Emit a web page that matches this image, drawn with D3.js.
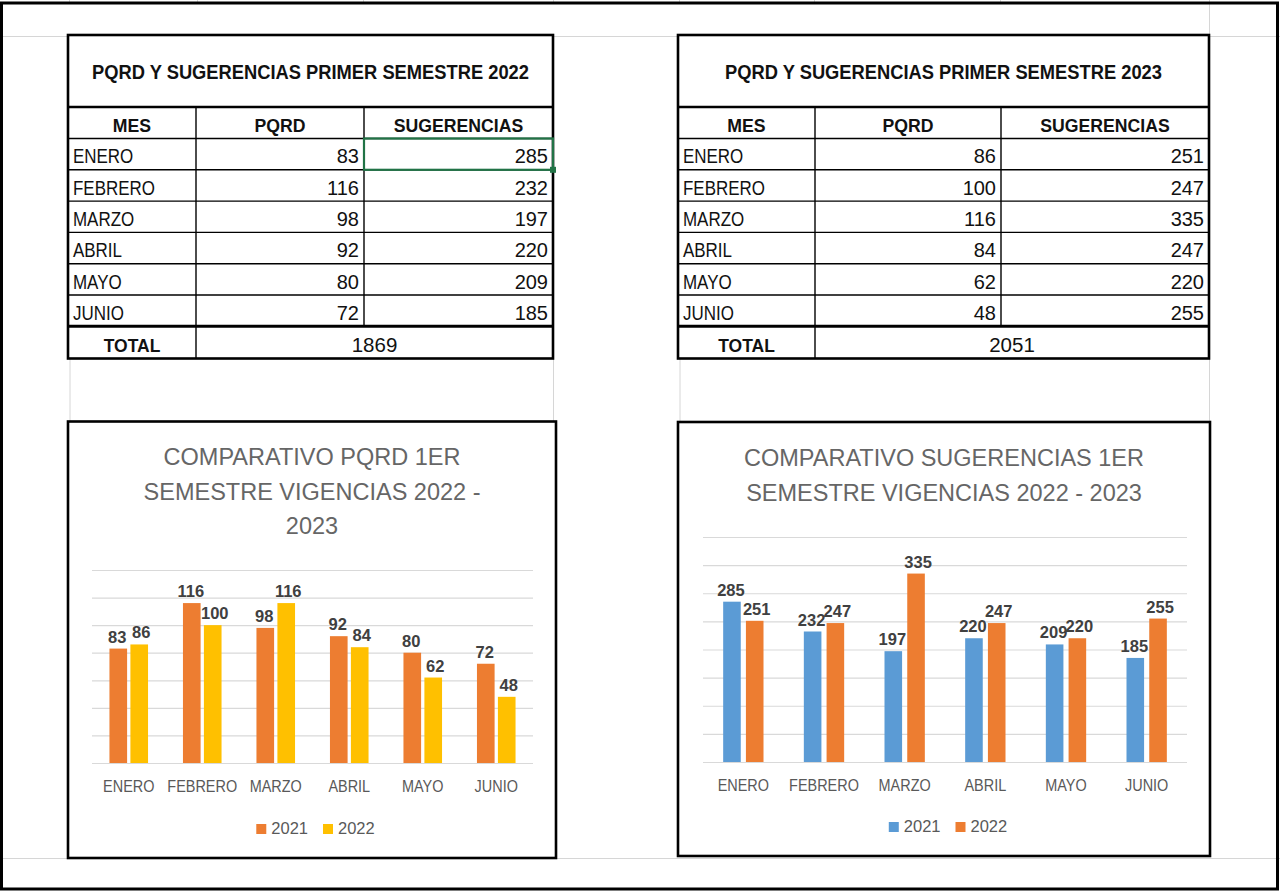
<!DOCTYPE html>
<html><head><meta charset="utf-8">
<script src="https://cdn.jsdelivr.net/npm/d3@7"></script>
<style>
html,body{margin:0;padding:0;background:#fff;}
svg{display:block;}
text{font-family:"Liberation Sans",Arial,sans-serif;}
</style></head>
<body><svg id="c" width="1280" height="892"></svg>
<script>
// ---------- DATA ----------
const meses = ["ENERO","FEBRERO","MARZO","ABRIL","MAYO","JUNIO"];
const pqrd2022 = [83,116,98,92,80,72];
const sug2022  = [285,232,197,220,209,185];
const pqrd2023 = [86,100,116,84,62,48];
const sug2023  = [251,247,335,247,220,255];
const tableTitles = ["PQRD Y SUGERENCIAS PRIMER SEMESTRE 2022","PQRD Y SUGERENCIAS PRIMER SEMESTRE 2023"];
const tableHeaders = ["MES","PQRD","SUGERENCIAS"];
const totalLabel = "TOTAL";
const chartTitlePQRD = ["COMPARATIVO PQRD 1ER","SEMESTRE VIGENCIAS 2022 -","2023"];
const chartTitleSug  = ["COMPARATIVO SUGERENCIAS 1ER","SEMESTRE VIGENCIAS 2022 - 2023"];
const legendLabels = ["2021","2022"];
const pqrdGridTicks = [0,20,40,60,80,100,120,140];
const sugGridTicks  = [0,50,100,150,200,250,300,350,400];

// ---------- SETUP ----------
const svg = d3.select("#c");
svg.append("rect").attr("width",1280).attr("height",892).attr("fill","#fff");
const GRID = "#d6d6d6";

function txt(g,x,y,s,o){
  o = Object.assign({size:16,weight:"normal",anchor:"start",fill:"#000",sx:1},o||{});
  return g.append("text")
    .attr("transform",`translate(${x},${y}) scale(${o.sx},1)`)
    .attr("text-anchor",o.anchor)
    .style("font-size",o.size+"px").style("font-weight",o.weight)
    .attr("fill",o.fill).text(s);
}

// spreadsheet gridlines
const bg = svg.append("g");
bg.append("line").attr("x1",0).attr("x2",1280).attr("y1",36.5).attr("y2",36.5).attr("stroke",GRID);
bg.append("line").attr("x1",0).attr("x2",1280).attr("y1",858.5).attr("y2",858.5).attr("stroke",GRID);
[70,553.5,680,1209.5].forEach(x=>{
  bg.append("line").attr("x1",x).attr("x2",x).attr("y1",358).attr("y2",422).attr("stroke",GRID);
});
bg.append("line").attr("x1",1209.5).attr("x2",1209.5).attr("y1",0).attr("y2",36).attr("stroke",GRID);
[69,197,363,553,679,814,1000,1209].forEach(x=>{
  bg.append("line").attr("x1",x+0.5).attr("x2",x+0.5).attr("y1",0).attr("y2",3).attr("stroke",GRID);
});

// ---------- TABLES ----------
function drawTable(cols, title, pq, sg){
  const g = svg.append("g");
  const yTitle = 35, yHead = 107, rowH = 31.3, yRows = 138.5;
  const yTot = yRows + rowH*6, yEnd = 358.5;
  const x0 = cols[0], x3 = cols[3];
  g.append("rect").attr("x",x0).attr("y",yTitle).attr("width",x3-x0).attr("height",yEnd-yTitle).attr("fill","#fff");
  const thin = 1.4;
  for(let i=0;i<=6;i++){
    const y = yRows + rowH*i;
    g.append("line").attr("x1",x0).attr("x2",x3).attr("y1",y).attr("y2",y)
      .attr("stroke","#000").attr("stroke-width", i===6?3:thin);
  }
  g.append("line").attr("x1",x0).attr("x2",x3).attr("y1",yHead).attr("y2",yHead).attr("stroke","#000").attr("stroke-width",2.5);
  [cols[1],cols[2]].forEach((x,k)=>{
    g.append("line").attr("x1",x).attr("x2",x).attr("y1",yHead).attr("y2",k===0?yEnd:yTot).attr("stroke","#000").attr("stroke-width",thin);
  });
  g.append("rect").attr("x",x0).attr("y",yTitle).attr("width",x3-x0).attr("height",yEnd-yTitle)
    .attr("fill","none").attr("stroke","#000").attr("stroke-width",2.6);
  txt(g,(x0+x3)/2,yTitle+44,title,{size:19.5,weight:"bold",anchor:"middle",sx:0.94,fill:"#111"});
  tableHeaders.forEach((h,i)=>{
    txt(g,(cols[i]+cols[i+1])/2,yHead+24.5,h,{size:18.6,weight:"bold",anchor:"middle",sx:0.95,fill:"#111"});
  });
  meses.forEach((m,i)=>{
    const yb = yRows + rowH*(i+1) - 6.5;
    txt(g,x0+5,yb,m,{size:19.5,sx:0.87,fill:"#111"});
    txt(g,cols[2]-5,yb,pq[i],{size:20,anchor:"end",fill:"#111"});
    txt(g,cols[3]-5,yb,sg[i],{size:20,anchor:"end",fill:"#111"});
  });
  txt(g,(cols[0]+cols[1])/2,yTot+26,totalLabel,{size:18.6,weight:"bold",anchor:"middle",sx:0.94,fill:"#111"});
  txt(g,(cols[1]+cols[3])/2,yTot+26,d3.sum(pq)+d3.sum(sg),{size:20.5,anchor:"middle",fill:"#111"});
  return {g,yRows,rowH};
}
const tL = drawTable([68,196,364,553],tableTitles[0],pqrd2022,sug2022);
drawTable([678,815,1001,1209],tableTitles[1],pqrd2023,sug2023);
// Excel selected cell
tL.g.append("rect").attr("x",364).attr("y",tL.yRows).attr("width",553-364).attr("height",tL.rowH)
  .attr("fill","none").attr("stroke","#217346").attr("stroke-width",2.2);
tL.g.append("rect").attr("x",550).attr("y",tL.yRows+tL.rowH-3).attr("width",6).attr("height",6).attr("fill","#217346");

// ---------- CHARTS ----------
function drawChart(cfg){
  const g = svg.append("g");
  const [fx0,fy0,fx1,fy1] = cfg.frame;
  g.append("rect").attr("x",fx0).attr("y",fy0).attr("width",fx1-fx0).attr("height",fy1-fy0)
    .attr("fill","#fff").attr("stroke","#000").attr("stroke-width",2.6);
  const cx = (fx0+fx1)/2;
  cfg.title.forEach((t,i)=>{
    txt(g,cx,cfg.titleY+i*34.5,t,{size:23.5,anchor:"middle",fill:"#666"});
  });
  const x = d3.scaleBand().domain(meses).range([cfg.px0,cfg.px1]).paddingInner(0).paddingOuter(0);
  const y = d3.scaleLinear().domain([0,d3.max(cfg.ticks)]).range([cfg.base,cfg.top]);
  const ga = g.append("g").attr("transform",`translate(${cfg.px0},0)`)
    .call(d3.axisLeft(y).tickValues(cfg.ticks).tickSize(-(cfg.px1-cfg.px0)).tickFormat(""));
  ga.select(".domain").remove();
  ga.selectAll(".tick line").attr("stroke","#d9d9d9").attr("stroke-width",1.2);
  const bw = x.bandwidth()*cfg.barFrac, gap = x.bandwidth()*cfg.gapFrac;
  const off = (x.bandwidth() - (2*bw+gap))/2;
  const series = [cfg.a,cfg.b];
  series.forEach((vals,s)=>{
    const data = meses.map((m,i)=>({m,v:vals[i]}));
    g.selectAll(null).data(data).enter().append("rect")
      .attr("x",d=>x(d.m)+off+s*(bw+gap)).attr("width",bw)
      .attr("y",d=>y(d.v)).attr("height",d=>y(0)-y(d.v))
      .attr("fill",cfg.colors[s]);
  });
  series.forEach((vals,s)=>{
    meses.forEach((m,i)=>{
      txt(g,x(m)+off+s*(bw+gap)+bw/2+(s?2:-1),y(vals[i])-6,vals[i],
        {size:16.5,weight:"bold",anchor:"middle",fill:"#404040"});
    });
  });
  const xa = g.append("g").attr("transform",`translate(0,${cfg.base})`)
    .call(d3.axisBottom(x).tickSize(0).tickPadding(17));
  xa.select(".domain").remove();
  xa.selectAll("text").style("font-size","17px").attr("fill","#595959")
    .attr("transform","scale(0.85,1)").style("font-family","'Liberation Sans',Arial,sans-serif");
  const lg = g.append("g");
  let widths = legendLabels.map(l=>{
    const t = txt(lg,0,0,l,{size:16.5}); const w = t.node().getComputedTextLength(); t.remove(); return w;});
  const total = widths[0]+widths[1]+2*(10+5)+15;
  let lx = (cfg.px0+cfg.px1)/2 + 3 - total/2;
  legendLabels.forEach((l,i)=>{
    lg.append("rect").attr("x",lx).attr("y",cfg.legendY-9).attr("width",10).attr("height",10).attr("fill",cfg.colors[i]);
    txt(lg,lx+15,cfg.legendY+1,l,{size:16.5,fill:"#595959"});
    lx += 15 + widths[i] + 15;
  });
}

drawChart({frame:[68,421.5,556,858],title:chartTitlePQRD,titleY:465,
  px0:92,px1:533,base:763,top:570,ticks:pqrdGridTicks,a:pqrd2022,b:pqrd2023,
  colors:["#ED7D31","#FFC000"],barFrac:0.24,gapFrac:0.045,legendY:833});
drawChart({frame:[678,422,1210,856],title:chartTitleSug,titleY:466,
  px0:703,px1:1187,base:762,top:537,ticks:sugGridTicks,a:sug2022,b:sug2023,
  colors:["#5B9BD5","#ED7D31"],barFrac:0.218,gapFrac:0.064,legendY:831});

svg.append("rect").attr("x",1.5).attr("y",3).attr("width",1276).attr("height",886)
  .attr("fill","none").attr("stroke","#000").attr("stroke-width",3);
</script></body></html>
